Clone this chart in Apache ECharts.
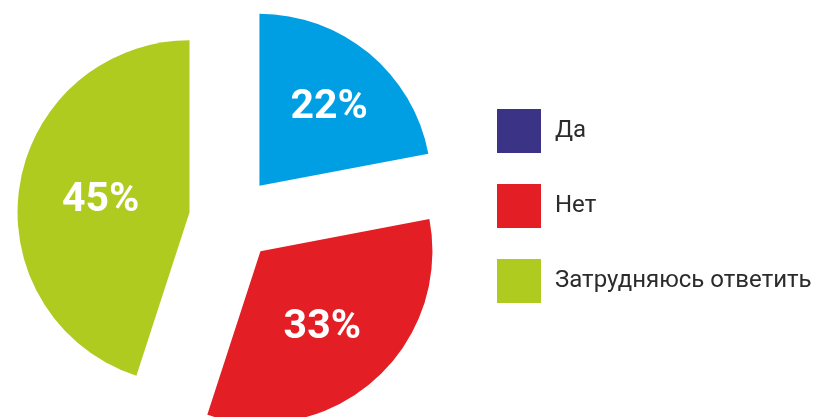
<!DOCTYPE html>
<html>
<head>
<meta charset="utf-8">
<script src="https://cdn.jsdelivr.net/npm/echarts@6/dist/echarts.min.js"></script>
<style>html,body{margin:0;padding:0;background:#fff}#c{width:824px;height:417px}</style>
</head>
<body>
<div id="c"></div>
<script>
var categories = ['Да', 'Нет', 'Затрудняюсь ответить'];
var values = [22, 33, 45];
var sliceColors = ['#009fe3', '#e31e24', '#b0cb1f'];
var legendColors = ['#3b3486', '#e31e24', '#b0cb1f'];

var FONT = 'Roboto, "DejaVu Sans Condensed", sans-serif';
var labelShift = [[13, -10], [3, 10], [-1, 2]];

var chart = echarts.init(document.getElementById('c'), null, {renderer: 'canvas'});
chart.setOption({
  animation: false,
  backgroundColor: '#ffffff',
  legend: {
    orient: 'vertical',
    left: 497,
    top: 109,
    padding: 0,
    itemWidth: 44,
    itemHeight: 44,
    itemGap: 31,
    icon: 'rect',
    selectedMode: false,
    textStyle: {fontFamily: FONT, fontSize: 24, color: '#2b2b2b', padding: [2, 0, 0, 9]},
    data: categories.map(function (c, i) {
      return {name: c, itemStyle: {color: legendColors[i]}};
    })
  },
  series: [{
    type: 'pie',
    center: [232, 219],
    radius: [0, 172],
    startAngle: 90,
    clockwise: true,
    selectedMode: 'multiple',
    selectedOffset: 43,
    label: {
      show: true,
      position: 'inside',
      formatter: '{c}%',
      color: '#ffffff',
      fontFamily: FONT,
      fontWeight: 'bold',
      fontSize: 41
    },
    labelLayout: function (p) {
      var s = labelShift[p.dataIndex];
      return {dx: s[0], dy: s[1]};
    },
    emphasis: {disabled: true},
    labelLine: {show: false},
    data: categories.map(function (c, i) {
      return {name: c, value: values[i], selected: true, itemStyle: {color: sliceColors[i]}};
    })
  }]
});
</script>
</body>
</html>
